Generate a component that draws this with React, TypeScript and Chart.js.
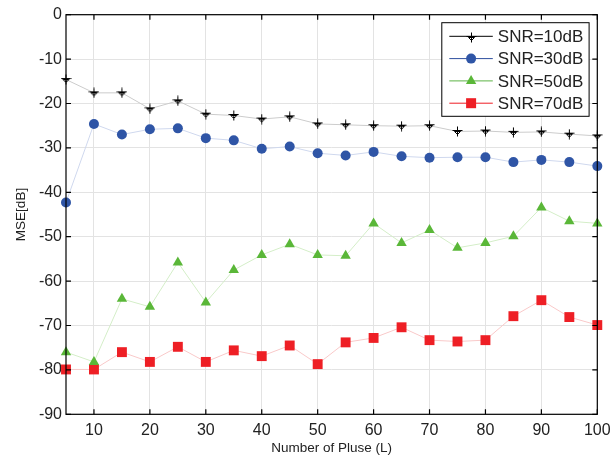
import React, { useEffect, useRef } from "react";
import { Chart, registerables } from "chart.js";

Chart.register(...registerables);

const pulses = [5, 10, 15, 20, 25, 30, 35, 40, 45, 50, 55, 60, 65, 70, 75, 80, 85, 90, 95, 100];
const snr10 = [-14.6, -17.6, -17.6, -21.2, -19.4, -22.4, -22.7, -23.5, -23.0, -24.6, -24.8, -25.0, -25.1, -25.0, -26.3, -26.2, -26.5, -26.4, -26.9, -27.3];
const snr30 = [-42.3, -24.6, -27.0, -25.8, -25.6, -27.8, -28.3, -30.2, -29.7, -31.2, -31.7, -30.9, -31.9, -32.2, -32.1, -32.1, -33.2, -32.7, -33.2, -34.1];
const snr50 = [-76.0, -78.2, -64.0, -65.8, -55.8, -64.8, -57.5, -54.1, -51.7, -54.1, -54.3, -47.0, -51.4, -48.5, -52.5, -51.4, -49.9, -43.4, -46.5, -47.0];
const snr70 = [-79.9, -79.9, -76.0, -78.2, -74.8, -78.2, -75.6, -76.9, -74.5, -78.7, -73.8, -72.8, -70.4, -73.3, -73.6, -73.3, -67.9, -64.3, -68.1, -69.9];
const seriesLabels = ["SNR=10dB", "SNR=30dB", "SNR=50dB", "SNR=70dB"];
const xTickValues = [10, 20, 30, 40, 50, 60, 70, 80, 90, 100];
const xMin = 5;
const xMax = 100;
const yMin = -90;
const yMax = 0;
const yStep = 10;
const xTitle = "Number of Pluse (L)";
const yTitle = "MSE[dB]";

const FONT = "'Liberation Sans', Arial, sans-serif";

function makePlusTriMarker(): HTMLCanvasElement {
  const c = document.createElement("canvas");
  c.width = 11;
  c.height = 11;
  const g = c.getContext("2d")!;
  g.strokeStyle = "#000";
  g.fillStyle = "#000";
  g.lineWidth = 1;
  g.beginPath();
  g.moveTo(5.5, 0.5);
  g.lineTo(5.5, 10.5);
  g.moveTo(0.5, 4.5);
  g.lineTo(10.5, 4.5);
  g.stroke();
  g.beginPath();
  g.moveTo(2.5, 5.5);
  g.lineTo(8.5, 5.5);
  g.lineTo(5.5, 8.5);
  g.closePath();
  g.stroke();
  return c;
}

export default function App() {
  const ref = useRef<HTMLCanvasElement | null>(null);

  useEffect(() => {
    if (!ref.current) return;
    const marker10 = makePlusTriMarker();

    const legendStyles = [
      { line: "#000000", kind: "image", fill: "#000" },
      { line: "#2e4f9e", kind: "circle", fill: "#2f55a6" },
      { line: "#5db345", kind: "triangle", fill: "#5ab738" },
      { line: "#ee1c24", kind: "rect", fill: "#ee1f25" },
    ];

    const boxPlugin = {
      id: "boxPlugin",
      afterDraw(chart: any) {
        const { ctx, chartArea } = chart;
        const { left, right, top, bottom } = chartArea;
        const xs = chart.scales.x;
        const ys = chart.scales.y;
        ctx.save();
        ctx.strokeStyle = "#000";
        ctx.lineWidth = 1.2;
        ctx.strokeRect(left, top, right - left, bottom - top);
        const tl = 5;
        ctx.beginPath();
        for (const v of xTickValues) {
          const px = xs.getPixelForValue(v);
          ctx.moveTo(px, bottom);
          ctx.lineTo(px, bottom - tl);
          ctx.moveTo(px, top);
          ctx.lineTo(px, top + tl);
        }
        for (const t of ys.ticks) {
          const py = ys.getPixelForValue(t.value);
          ctx.moveTo(left, py);
          ctx.lineTo(left + tl, py);
          ctx.moveTo(right, py);
          ctx.lineTo(right - tl, py);
        }
        ctx.stroke();

        // legend
        const bx = right - 155.5;
        const by = top + 8;
        const bw = 147.3;
        const bh = 93.6;
        ctx.fillStyle = "#fff";
        ctx.fillRect(bx, by, bw, bh);
        ctx.strokeStyle = "#000";
        ctx.lineWidth = 1;
        ctx.strokeRect(bx, by, bw, bh);
        ctx.font = `17px ${FONT}`;
        ctx.textBaseline = "middle";
        ctx.textAlign = "left";
        seriesLabels.forEach((lab, i) => {
          const cy = by + 13.6 + i * 22.3;
          const st = legendStyles[i];
          ctx.strokeStyle = st.line;
          ctx.lineWidth = 1;
          ctx.beginPath();
          ctx.moveTo(bx + 7.5, cy);
          ctx.lineTo(bx + 51, cy);
          ctx.stroke();
          const mx = bx + 29.3;
          ctx.fillStyle = st.fill;
          if (st.kind === "image") {
            ctx.drawImage(marker10, Math.round(mx - 5.5), Math.round(cy - 4.5));
          } else if (st.kind === "circle") {
            ctx.beginPath();
            ctx.arc(mx, cy, 5, 0, Math.PI * 2);
            ctx.fill();
          } else if (st.kind === "triangle") {
            const r = 6;
            ctx.beginPath();
            ctx.moveTo(mx, cy - r);
            ctx.lineTo(mx + r * 0.866, cy + r * 0.5);
            ctx.lineTo(mx - r * 0.866, cy + r * 0.5);
            ctx.closePath();
            ctx.fill();
          } else {
            ctx.fillRect(mx - 5, cy - 5, 10, 10);
          }
          ctx.fillStyle = "#222";
          ctx.fillText(lab, bx + 56, cy + 1);
        });
        ctx.restore();
      },
    };

    const toPts = (arr: number[]) => pulses.map((p, i) => ({ x: p, y: arr[i] }));

    const chart = new Chart(ref.current, {
      type: "line",
      data: {
        datasets: [
          {
            label: seriesLabels[0],
            data: toPts(snr10),
            borderColor: "#cccccc",
            borderWidth: 1,
            pointStyle: marker10 as any,
            pointRadius: 6,
            pointBackgroundColor: "#000",
            pointBorderColor: "#000",
          },
          {
            label: seriesLabels[1],
            data: toPts(snr30),
            borderColor: "#cfd8ee",
            borderWidth: 1,
            pointStyle: "circle",
            pointRadius: 5,
            pointBackgroundColor: "#2f55a6",
            pointBorderColor: "#2f55a6",
            pointBorderWidth: 0,
          },
          {
            label: seriesLabels[2],
            data: toPts(snr50),
            borderColor: "#d4eec8",
            borderWidth: 1,
            pointStyle: "triangle",
            pointRadius: 6,
            pointBackgroundColor: "#5ab738",
            pointBorderColor: "#5ab738",
            pointBorderWidth: 0,
          },
          {
            label: seriesLabels[3],
            data: toPts(snr70),
            borderColor: "#f9c9c9",
            borderWidth: 1,
            pointStyle: "rect",
            pointRadius: 7,
            pointBackgroundColor: "#ee1f25",
            pointBorderColor: "#ee1f25",
            pointBorderWidth: 0,
          },
        ],
      },
      options: {
        animation: false,
        responsive: false,
        clip: false as any,
        layout: { padding: { top: 14.7, right: 12.7, left: 0, bottom: 0 } },
        plugins: {
          legend: { display: false },
          tooltip: { enabled: false },
        },
        elements: { line: { tension: 0 } },
        scales: {
          x: {
            type: "linear",
            min: xMin,
            max: xMax,
            afterBuildTicks: (scale: any) => {
              scale.ticks = xTickValues.map((v) => ({ value: v }));
            },
            afterFit: (scale: any) => {
              scale.height = 456 - 414.3;
              scale.paddingLeft = 0;
              scale.paddingRight = 0;
            },
            grid: { color: "#e3e3e3", lineWidth: 1, drawTicks: false },
            border: { display: false },
            ticks: {
              padding: 7,
              color: "#222",
              font: { family: FONT, size: 16 },
              maxRotation: 0,
              autoSkip: false,
            },
            title: {
              display: true,
              text: xTitle,
              color: "#222",
              font: { family: FONT, size: 13.5 },
              padding: { top: 0, bottom: 0 },
            },
          },
          y: {
            type: "linear",
            min: yMin,
            max: yMax,
            afterFit: (scale: any) => {
              scale.width = 66;
              scale.paddingTop = 0;
              scale.paddingBottom = 0;
            },
            grid: { color: "#e3e3e3", lineWidth: 1, drawTicks: false },
            border: { display: false },
            ticks: {
              stepSize: yStep,
              padding: 4,
              color: "#222",
              font: { family: FONT, size: 16 },
            },
            title: {
              display: true,
              text: yTitle,
              color: "#222",
              font: { family: FONT, size: 13.5 },
              padding: { top: 13, bottom: 0 },
            },
          },
        },
      },
      plugins: [boxPlugin],
    });

    return () => chart.destroy();
  }, []);

  return (
    <div style={{ position: "absolute", left: 0, top: 0, width: 610, height: 456, background: "#fff" }}>
      <canvas ref={ref} width={610} height={456} />
    </div>
  );
}
